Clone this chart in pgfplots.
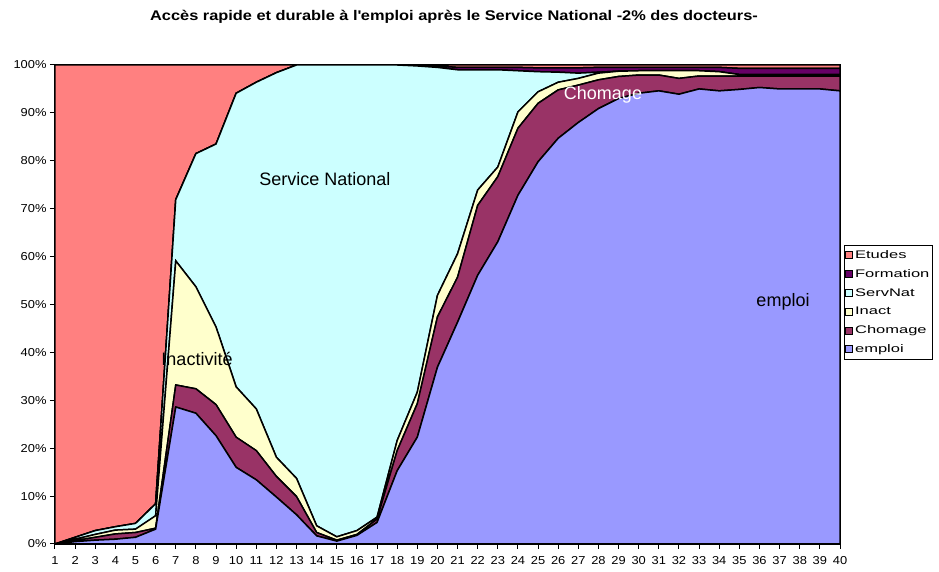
\documentclass[border=0pt]{standalone}
\usepackage{pgfplots}
\pgfplotsset{compat=1.18}
\usepackage{pgfplotstable}
\usepackage{fontspec}
\setmainfont{Liberation Sans}
\newfontfamily\titlefont[FakeStretch=1.17]{Liberation Sans}
\newfontfamily\legfont[FakeStretch=1.5]{Liberation Sans}
\newfontfamily\tickfont[FakeStretch=1.12]{Liberation Sans}
\definecolor{cEtudes}{HTML}{FF8080}
\definecolor{cFormation}{HTML}{660066}
\definecolor{cServNat}{HTML}{CCFFFF}
\definecolor{cInact}{HTML}{FFFFCC}
\definecolor{cChomage}{HTML}{993366}
\definecolor{cEmploi}{HTML}{9999FF}

\pgfplotstableread{
x emploi chomage inact servnat formation etudes
1 0 0 0 0 0 100
2 0.5 0.2 0.3 0.4 0 98.6
3 0.8 0.6 0.6 0.8 0 97.2
4 1.0 1.1 0.8 0.7 0 96.4
5 1.4 1.0 0.7 1.2 0 95.7
6 3.1 0.2 2.6 2.5 0 91.6
7 28.6 4.6 25.9 12.8 0 28.1
8 27.3 5.1 21.3 27.8 0 18.5
9 22.6 6.5 16.2 38.2 0 16.5
10 16.0 6.3 10.5 61.3 0 5.9
11 13.4 6.1 8.7 68.2 0 3.6
12 9.8 4.3 4.0 80.3 0 1.6
13 6.1 3.8 3.8 86.3 0 0
14 1.7 0.7 1.4 96.2 0 0
15 0.6 0.2 0.7 98.5 0 0
16 1.8 0.2 0.8 97.2 0 0
17 4.5 0.7 0.4 94.4 0 0
18 15.3 4.2 2.1 78.4 0 0
19 22.3 7.0 2.4 68.1 0.2 0
20 36.9 10.5 4.5 47.6 0.3 0.2
21 46.3 9.4 4.9 38.4 0.5 0.5
22 56.1 14.6 3.2 25.1 0.5 0.5
23 63.1 13.6 2.0 20.3 0.5 0.5
24 72.8 14.0 3.4 8.6 0.7 0.5
25 79.8 12.2 2.4 4.2 0.8 0.6
26 84.7 10.1 1.6 2.1 0.9 0.6
27 88.0 7.8 1.4 1.1 1.1 0.6
28 90.9 6.0 1.4 0.2 1.0 0.5
29 93.0 4.6 1.1 0 0.8 0.5
30 94.1 3.8 0.9 0 0.7 0.5
31 94.6 3.3 0.9 0 0.7 0.5
32 93.9 3.3 1.6 0 0.7 0.5
33 95.0 2.7 1.1 0 0.7 0.5
34 94.6 3.1 0.9 0 0.9 0.5
35 94.9 2.8 0.3 0 1.3 0.7
36 95.3 2.4 0.3 0 1.3 0.7
37 95.0 2.7 0.3 0 1.3 0.7
38 95.0 2.7 0.3 0 1.3 0.7
39 95.0 2.7 0.3 0 1.3 0.7
40 94.6 3.1 0.3 0 1.3 0.7
}\data

\begin{document}
\begin{tikzpicture}
\begin{axis}[
  name=ax,
  scale only axis,
  width=785pt, height=479pt,
  xmin=1, xmax=40, ymin=0, ymax=100,
  stack plots=y,
  axis lines=left,
  axis line style={-, line width=1.2pt},
  tick style={black, line width=1pt},
  tick align=outside,
  major tick length=5pt,
  xtick={1,...,40},
  ytick={0,10,...,100},
  yticklabel={\pgfmathprintnumber{\tick}\%},
  /pgf/number format/assume math mode=true,
  tick label style={font=\tickfont\fontsize{11.5}{13}\selectfont},
  xticklabel style={yshift=-4pt},
  legend cell align=left,
  reverse legend,
  legend image code/.code={\draw[#1, draw=black, line width=0.8pt] (0pt,-3.5pt) rectangle (7pt,3.5pt);},
  legend style={at={(1.005,0.624)}, anchor=north west, draw=black, line width=0.8pt,
    font=\legfont\fontsize{11}{13}\selectfont, row sep=5.5pt, inner xsep=1pt, inner ysep=3pt,
    nodes={inner xsep=2pt}},
  clip=false,
]
\addplot[fill=cEmploi, draw=black, line width=1.5pt] table[x=x,y=emploi]{\data} \closedcycle;
\addplot[fill=cChomage, draw=black, line width=1.5pt] table[x=x,y=chomage]{\data} \closedcycle;
\addplot[fill=cInact, draw=black, line width=1.5pt] table[x=x,y=inact]{\data} \closedcycle;
\addplot[fill=cServNat, draw=black, line width=1.5pt] table[x=x,y=servnat]{\data} \closedcycle;
\addplot[fill=cFormation, draw=black, line width=1.5pt] table[x=x,y=formation]{\data} \closedcycle;
\addplot[fill=cEtudes, draw=black, line width=1.5pt] table[x=x,y=etudes]{\data} \closedcycle;
\legend{emploi,Chomage,Inact,ServNat,Formation,Etudes}
\end{axis}
\node[font=\fontsize{18}{20}\selectfont] at ([xshift=270pt,yshift=365pt]ax.south west) {Service National};
\node[font=\fontsize{18}{20}\selectfont] at ([xshift=142pt,yshift=185pt]ax.south west) {Inactivité};
\node[font=\fontsize{18}{20}\selectfont, white] at ([xshift=548pt,yshift=449pt]ax.south west) {Chomage};
\node[font=\fontsize{18}{20}\selectfont] at ([xshift=728pt,yshift=242pt]ax.south west) {emploi};
\node[font=\titlefont\bfseries\fontsize{14}{16}\selectfont] at ([xshift=399pt,yshift=527pt]ax.south west) {Accès rapide et durable à l\textquotesingle emploi après le Service National -2\% des docteurs-};
\pgfresetboundingbox
\path ([xshift=-55pt,yshift=-28pt]ax.south west) rectangle ++(939pt,572pt);
\end{tikzpicture}
\end{document}
